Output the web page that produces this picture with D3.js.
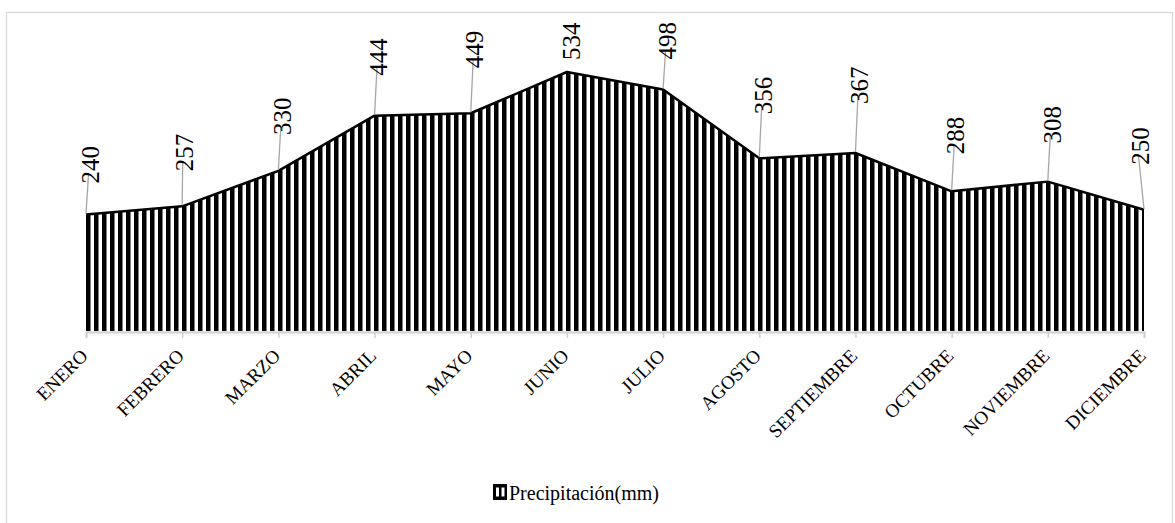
<!DOCTYPE html>
<html><head><meta charset="utf-8">
<script src="https://cdn.jsdelivr.net/npm/d3@7"></script>
<style>html,body{margin:0;padding:0;background:#fff;}svg{display:block;}
text{font-family:'Liberation Serif','Times New Roman',serif;}</style>
</head><body>
<script>
const categories = ["ENERO","FEBRERO","MARZO","ABRIL","MAYO","JUNIO","JULIO","AGOSTO","SEPTIEMBRE","OCTUBRE","NOVIEMBRE","DICIEMBRE"];
const precipitation = [240,257,330,444,449,534,498,356,367,288,308,250];
const seriesName = "Precipitación(mm)";
// layout: vertical lift of each data label above its point (px)
const labelLift = [31,35,36,40,45,12,30,44,49,37,38,45];
const labelShift = [4,2,4,4,4,4,4,4,4,4,4,-4];

const W = 1175, H = 523;
const FONT = "'Liberation Serif','Times New Roman',serif";
const svg = d3.select("body").append("svg").attr("width", W).attr("height", H);
const defs = svg.append("defs");
const pat = defs.append("pattern").attr("id","vstripe").attr("patternUnits","userSpaceOnUse")
  .attr("x",86).attr("y",0).attr("width",8).attr("height",8);
pat.append("rect").attr("width",8).attr("height",8).attr("fill","#fff");
pat.append("rect").attr("width",4.5).attr("height",8).attr("fill","#000");

svg.append("rect").attr("x",6.5).attr("y",12.5).attr("width",1166).attr("height",530)
  .attr("fill","none").attr("stroke","#d9d9d9").attr("stroke-width",1.3);

const x = d3.scalePoint().domain(categories).range([86,1144]);
const y = d3.scaleLinear().domain([0,600]).range([331,40]);

const area = d3.area().x((d,i)=>x(categories[i])).y0(y(0)).y1(d=>y(d));
const line = d3.line().x((d,i)=>x(categories[i])).y(d=>y(d));

svg.append("path").datum(precipitation).attr("d",area).attr("fill","url(#vstripe)");
svg.append("path").datum(precipitation).attr("d",line).attr("fill","none")
  .attr("stroke","#000").attr("stroke-width",2.5).attr("stroke-linejoin","round");

// x axis
const xAxis = d3.axisBottom(x).tickSize(6).tickFormat("");
const gx = svg.append("g").attr("transform",`translate(0,${y(0)+1})`).call(xAxis);
gx.select(".domain").attr("stroke","#d0d0d0").attr("stroke-width",2);
gx.selectAll(".tick line").attr("stroke","#d0d0d0").attr("stroke-width",1.5);

// category labels
svg.append("g").selectAll("text").data(categories).join("text")
  .attr("transform",d=>`translate(${x(d)+3},${357}) rotate(-45)`)
  .attr("text-anchor","end")
  .attr("font-family",FONT)
  .attr("font-size",19).attr("fill","#000").text(d=>d);

// data labels with leader lines
const lg = svg.append("g");
precipitation.forEach((v,i)=>{
  const px = x(categories[i]), py = y(v);
  const lx = px + labelShift[i], lb = py - labelLift[i];
  if (labelLift[i] > 20) {
    lg.append("line").attr("x1",px).attr("y1",py-1).attr("x2",lx-1.5).attr("y2",lb-9)
      .attr("stroke","#a6a6a6").attr("stroke-width",1.3);
  }
  lg.append("text").attr("transform",`translate(${lx},${lb}) rotate(-90)`)
    .attr("dy","0.35em").attr("text-anchor","start")
    .attr("font-family",FONT)
    .attr("font-size",25).attr("fill","#000").text(v);
});

// legend
const leg = svg.append("g").attr("transform","translate(493,484)");
leg.append("rect").attr("x",0).attr("y",0).attr("width",14).attr("height",16).attr("fill","#000");
leg.append("rect").attr("x",3).attr("y",3.5).attr("width",3).attr("height",9).attr("fill","#fff");
leg.append("rect").attr("x",8.5).attr("y",3.5).attr("width",3).attr("height",9).attr("fill","#fff");
leg.append("text").attr("x",16).attr("y",15.5)
  .attr("font-family",FONT)
  .attr("font-size",20).attr("fill","#000").text(seriesName);
</script>
</body></html>
